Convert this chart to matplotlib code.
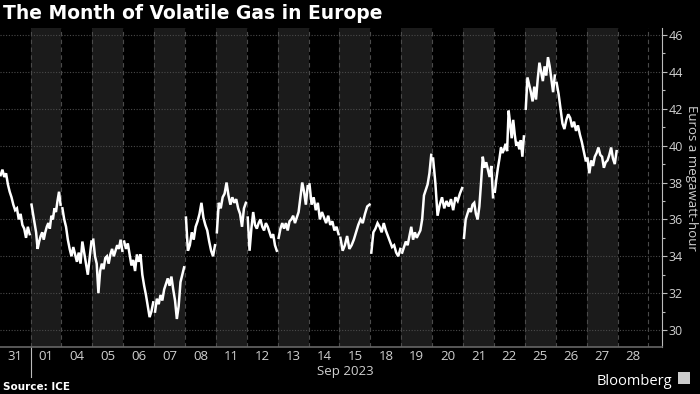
import matplotlib.pyplot as plt
import matplotlib.transforms as mtransforms
import numpy as np

# trading days shown on the x axis
days = ['31', '01', '04', '05', '06', '07', '08', '11', '12', '13', '14',
        '15', '18', '19', '20', '21', '22', '25', '26', '27', '28']
shaded = ['01', '05', '07', '11', '13', '15', '19', '21', '25', '27']

# intraday prices (EUR/MWh), one list per day
d31 = [38.4, 38.7, 38.3, 38.5, 37.9, 37.5, 37.2, 36.8, 36.5, 36.6, 36.0, 36.3, 35.7, 35.5, 35.0, 35.6, 35.2]
d01 = [36.8, 36.3, 35.8, 35.3, 34.4, 34.8, 35.1, 35.3, 34.9, 35.3, 35.6, 35.8, 35.5, 36.2, 36.0, 36.6, 36.4, 37.0, 37.5, 36.8]
d04 = [36.6, 36.0, 35.6, 34.9, 34.4, 34.0, 34.5, 34.1, 33.7, 34.2, 33.6, 34.8, 34.2, 33.6, 33.0, 33.9, 34.8]
d05 = [34.9, 34.0, 33.6, 32.0, 33.2, 33.6, 33.3, 33.9, 34.0, 33.6, 34.1, 34.4, 34.0, 34.3, 34.6, 34.4, 34.9, 34.3]
d06 = [34.8, 34.4, 34.7, 34.1, 33.5, 33.8, 33.2, 34.1, 33.7, 34.1, 33.0, 32.4, 31.9, 31.3, 30.7, 31.0, 31.5]
d07 = [31.0, 31.7, 31.4, 31.9, 31.6, 32.2, 32.5, 32.8, 32.4, 32.9, 32.2, 31.6, 30.6, 31.3, 32.6, 33.0, 33.4]
d08 = [36.1, 34.3, 34.6, 35.3, 34.9, 35.6, 35.9, 36.3, 36.9, 36.1, 35.7, 35.4, 34.8, 34.3, 34.0, 34.6]
d11 = [35.3, 36.9, 36.6, 37.2, 37.4, 38.0, 37.3, 36.8, 37.2, 36.9, 37.1, 36.6, 36.3, 35.6, 36.6, 36.9]
d12 = [36.1, 34.3, 35.5, 36.4, 35.7, 35.5, 35.8, 36.0, 35.6, 35.4, 35.8, 35.6, 35.3, 35.0, 35.2, 34.6, 34.3]
d13 = [35.0, 35.5, 35.8, 35.5, 35.8, 35.4, 35.9, 36.0, 36.2, 35.8, 36.1, 36.4, 37.2, 38.0, 37.5, 36.8, 37.8]
d14 = [37.9, 36.8, 37.2, 36.5, 36.9, 36.0, 36.4, 36.1, 35.8, 36.2, 35.7, 35.9, 35.4, 35.6, 35.2]
d15 = [35.0, 34.3, 34.6, 35.1, 34.4, 34.6, 34.9, 35.3, 35.7, 36.0, 35.8, 36.3, 36.7, 36.8]
d18 = [34.2, 35.3, 35.5, 35.8, 35.6, 35.3, 35.8, 35.4, 35.1, 34.8, 34.5, 34.6, 34.2, 34.0, 34.4]
d19 = [34.2, 34.5, 34.8, 34.6, 35.1, 35.6, 34.9, 35.3, 35.0, 35.2, 35.4, 36.0, 37.3, 37.6, 37.9, 38.5, 39.5]
d20 = [39.3, 38.0, 36.2, 36.8, 37.2, 36.6, 37.0, 36.7, 37.1, 36.5, 37.2, 37.0, 37.4, 37.7]
d21 = [35.0, 36.0, 36.3, 36.6, 36.4, 36.8, 36.9, 36.3, 36.0, 36.7, 38.0, 39.4, 38.8, 39.1, 38.7, 38.3, 38.9, 37.2]
d22 = [37.5, 38.2, 38.8, 39.3, 39.9, 39.6, 39.8, 40.1, 39.7, 41.9, 41.2, 40.4, 41.4, 40.6, 40.0, 40.2, 39.8, 40.3, 39.4, 40.5]
d25 = [42.0, 43.7, 43.3, 42.9, 42.4, 43.2, 42.5, 43.6, 44.5, 44.0, 43.5, 44.3, 43.8, 44.8, 44.3, 43.6, 42.9, 43.8]
d26 = [43.4, 42.8, 42.0, 41.2, 40.9, 41.4, 41.7, 41.5, 41.0, 41.3, 40.8, 41.1, 40.6, 40.2, 39.7, 39.2]
d27 = [39.3, 38.5, 39.2, 38.9, 39.4, 39.6, 39.9, 39.5, 39.4, 38.8, 39.1, 39.2, 39.5, 39.9, 39.3, 39.0, 39.7]

prices = [d31, d01, d04, d05, d06, d07, d08, d11, d12, d13, d14,
          d15, d18, d19, d20, d21, d22, d25, d26, d27]

bg = '#000000'
band = '#1b1b1b'
grid = '#4a4a4a'
txt = '#d0d0d0'

fig = plt.figure(figsize=(7, 3.94), dpi=100, facecolor=bg)
ax = fig.add_axes([0.0, 0.1193, 0.9457, 0.8096], facecolor=bg)

# alternating day bands and dashed day boundaries
for i, d in enumerate(days):
    if d in shaded:
        ax.axvspan(i - 0.5, i + 0.5, color=band, lw=0, zorder=0)
for i in range(len(days)):
    ax.axvline(i + 0.5, color=grid, ls=(0, (4, 3)), lw=0.8, zorder=1)
for v in range(30, 47, 2):
    ax.axhline(v, color=grid, ls=(0, (1, 1.5)), lw=0.8, zorder=1)

# white price line, drawn day by day
xs, ys = [], []
for i, vals in enumerate(prices):
    x = np.linspace(i - 0.47, i + 0.47, len(vals))
    xs.extend(x)
    ys.extend(vals)
    xs.append(np.nan)
    ys.append(np.nan)
ax.plot(xs, ys, color='white', lw=1.8, zorder=3, solid_joinstyle='miter')

ax.set_xlim(-0.49, 20.94)
ax.set_ylim(29.08, 46.38)

ax.set_xticks(range(len(days)))
ax.set_xticklabels(days)
ax.tick_params(axis='x', length=0, pad=2, colors=txt, labelsize=9.5)

ax.yaxis.tick_right()
ax.set_yticks(range(30, 47, 2))
ax.set_yticks(range(31, 47, 2), minor=True)
ax.tick_params(axis='y', which='major', length=3.5, width=0.8,
               colors=txt, labelsize=9, pad=1)
ax.tick_params(axis='y', which='minor', length=2.5, width=0.8)
ax.tick_params(axis='y', which='both', color='#bbbbbb')

for s in ['top', 'left']:
    ax.spines[s].set_visible(False)
ax.spines['right'].set_color('#bbbbbb')
ax.spines['bottom'].set_color('#666666')
ax.spines['bottom'].set_linewidth(1.2)

for lbl in ax.get_xticklabels() + ax.get_yticklabels():
    lbl.set_family('Open Sans')

# y axis title, placed by hand to the right of the tick labels
fig.text(0.988, 0.548, 'Euros a megawatt-hour', rotation=-90, color=txt,
         fontsize=9.5, ha='center', va='center', family='Open Sans')

# month separator and month label
trans = mtransforms.blended_transform_factory(ax.transData, ax.transAxes)
ax.plot([0.5, 0.5], [0, -0.094], color='#bbbbbb', lw=0.8, transform=trans, clip_on=False)
ax.text(10.7, -0.058, 'Sep 2023', transform=trans, ha='center', va='top',
        color=txt, fontsize=9.5, family='Open Sans')

fig.text(0.004, 0.965, 'The Month of Volatile Gas in Europe', color='white',
         fontsize=13.5, fontweight='bold', ha='left', va='center')
fig.text(0.004, 0.005, 'Source: ICE', color='white', fontsize=7.5,
         fontweight='bold', ha='left', va='bottom')
fig.text(0.96, 0.012, 'Bloomberg', color='white', fontsize=10.5,
         ha='right', va='bottom', family='Open Sans')
fig.patches.append(plt.Rectangle((0.968, 0.025), 0.017, 0.03, transform=fig.transFigure,
                                 facecolor='#cccccc', edgecolor='none'))

fig.savefig('out.png', dpi=100, facecolor=bg)
